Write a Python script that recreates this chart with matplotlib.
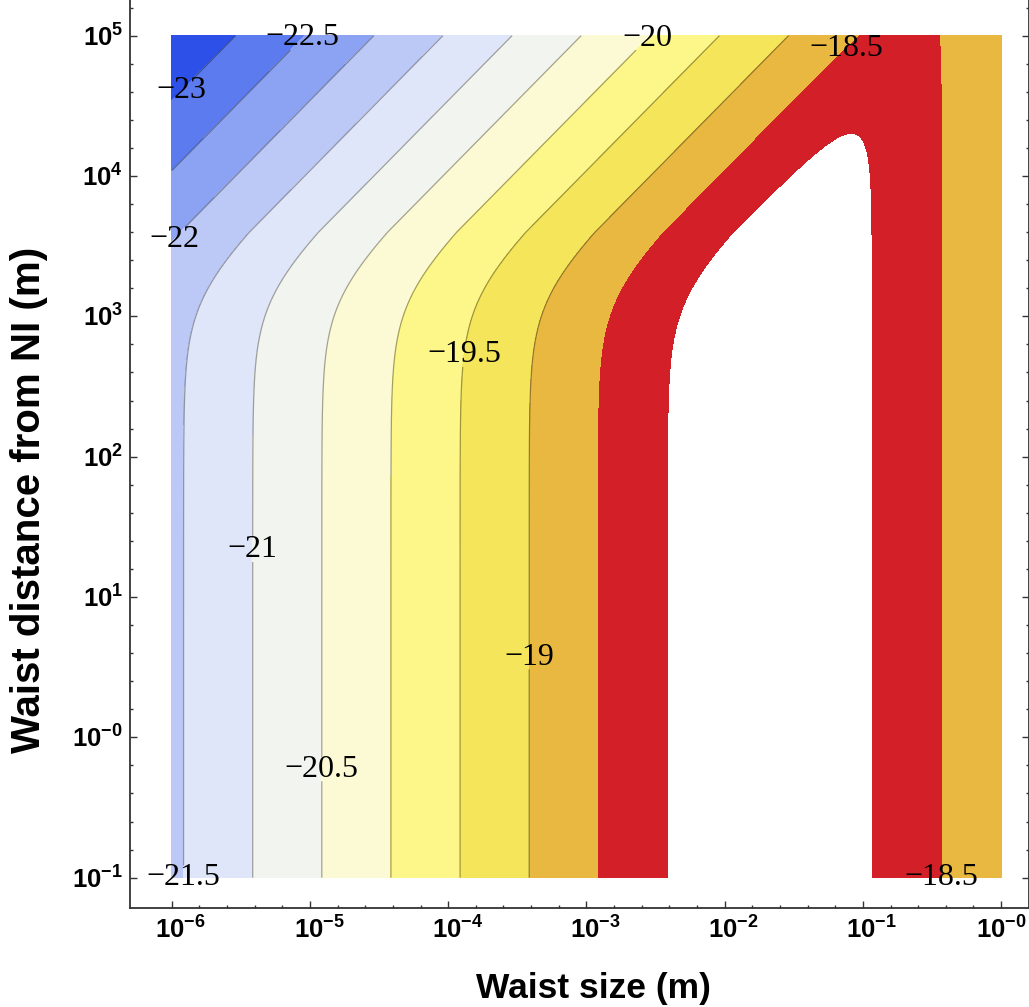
import numpy as np
import matplotlib
matplotlib.use('Agg')
import matplotlib.pyplot as plt
from matplotlib.ticker import FixedLocator, FixedFormatter, NullFormatter
from matplotlib.transforms import ScaledTranslation

# contour levels and the fill colour of each band (lowest band first)
levels = [-24.0, -23.0, -22.5, -22.0, -21.5, -21.0, -20.5, -20.0, -19.5, -19.0, -18.5, -18.0]
band_colors = ['#2c50e8', '#5b7bee', '#8ba3f2', '#bcc8f6', '#e0e6fa', '#f2f4ef',
               '#fcfad4', '#fdf78a', '#f4e55a', '#e9b840', '#d32028']
line_levels = [-23.0, -22.5, -22.0, -21.5, -21.0, -20.5, -20.0, -19.5, -19.0, -18.5]

# level crossings along the bottom row (z = 0.1 m)
rise_levels = [-21.5, -21.0, -20.5, -20.0, -19.5, -19.0, -18.5, -18.0]
rise_w0 = [1.22e-6, 3.85e-6, 1.21e-5, 3.91e-5, 1.21e-4, 3.83e-4, 1.21e-3, 3.88e-3]
fall_levels = [-18.0, -18.5]
fall_w0 = [0.114, 0.379]

# distance where the rising contours bend over, and the laser wavelength
bend_distance = 1.41e3   # m
wavelength = 1.064e-6    # m

# contour labels: the spot on the line where each label sits
label_spots = [(1.15e-6, 4.2e4), (8.5e-6, 1.0e5), (1.06e-6, 3.5e3), (1.25e-6, 0.1),
               (3.87e-6, 21.7), (1.22e-5, 0.59), (2.66e-3, 1.0e5), (1.32e-4, 532),
               (3.9e-4, 3.7), (0.074, 8.2e4), (0.38, 0.1)]

x_ticks = [1e-6, 1e-5, 1e-4, 1e-3, 1e-2, 1e-1, 1e0]
x_tick_labels = ['-6', '-5', '-4', '-3', '-2', '-1', '-0']
y_ticks = [1e-1, 1e0, 1e1, 1e2, 1e3, 1e4, 1e5]
y_tick_labels = ['-1', '-0', '1', '2', '3', '4', '5']

plt.rcParams['mathtext.fontset'] = 'custom'
plt.rcParams['mathtext.bf'] = 'Liberation Sans:bold'
plt.rcParams['mathtext.rm'] = 'Liberation Sans'

# field on a log grid
w0 = np.logspace(-6, 0, 700)
z = np.logspace(-1, 5, 700)
W, Z = np.meshgrid(w0, z)
rise_offset = np.mean(np.array(rise_levels) - np.log10(rise_w0))
fall_offset = np.mean(np.array(fall_levels) + np.log10(fall_w0))
rise = np.log10(W) - 0.5 * np.log10(1 + (Z / bend_distance) ** 2) + rise_offset
rayleigh = np.pi * W ** 2 / wavelength
fall = fall_offset - np.log10(W * np.sqrt(1 + (Z / rayleigh) ** 2))
field = np.minimum(rise, fall)

fig = plt.figure(figsize=(10.29, 10.07), dpi=100)
ax = fig.add_axes([130 / 1029, 1 - 907.7 / 1007, 898.5 / 1029, 907.7 / 1007])

# scales first so the labels are placed in the final screen coordinates
ax.set_xscale('log')
ax.set_yscale('log')
ax.set_xlim(10 ** -6.302, 10 ** 0.198)
ax.set_ylim(10 ** -1.214, 10 ** 5.254)

ax.contourf(W, Z, field, levels=levels, colors=band_colors)

# invisible copy of the lines, only used to place the labels
label_set = ax.contour(W, Z, field, levels=line_levels, colors='k', linewidths=0)
texts = ax.clabel(label_set, manual=label_spots, inline=False, colors='k',
                  fontsize=23, fmt=lambda v: f'{v:g}'.replace('-', '\u2212'))
for t in texts:
    t.set_rotation(0)
    t.set_fontfamily('Liberation Serif')

# break the visible lines where a label sits
fig.canvas.draw()
renderer = fig.canvas.get_renderer()
pix = ax.transData.transform(np.column_stack([W.ravel(), Z.ravel()])).reshape(W.shape + (2,))
hidden = np.zeros(W.shape, dtype=bool)
for t in texts:
    bb = t.get_window_extent(renderer).expanded(1.0, 0.8)
    hidden |= ((pix[..., 0] > bb.x0) & (pix[..., 0] < bb.x1) &
               (pix[..., 1] > bb.y0) & (pix[..., 1] < bb.y1))
line_field = np.ma.masked_array(field, mask=hidden)
ax.contour(W, Z, line_field, levels=line_levels[:-1],
           colors=[(0, 0, 0, 0.35)], linewidths=0.9, linestyles='solid')

ax.xaxis.set_major_locator(FixedLocator(x_ticks))
ax.xaxis.set_major_formatter(FixedFormatter([r'$\mathbf{10^{%s}}$' % s for s in x_tick_labels]))
ax.yaxis.set_major_locator(FixedLocator(y_ticks))
ax.yaxis.set_major_formatter(FixedFormatter([r'$\mathbf{10^{%s}}$' % s for s in y_tick_labels]))
x_minor = [t * 10 ** (j / 5) for t in x_ticks for j in range(1, 5) if t * 10 ** (j / 5) < 1.5]
y_minor = [t * 10 ** (j / 5) for t in y_ticks for j in range(1, 5) if t * 10 ** (j / 5) < 1.7e5]
ax.xaxis.set_minor_locator(FixedLocator(x_minor))
ax.yaxis.set_minor_locator(FixedLocator(y_minor))
ax.xaxis.set_minor_formatter(NullFormatter())
ax.yaxis.set_minor_formatter(NullFormatter())

ax.tick_params(which='both', direction='in', color='#333333', width=1.0,
               top=False, right=True, labelsize=18.5)
ax.tick_params(which='major', length=5)
ax.tick_params(which='minor', length=2.5)
ax.tick_params(axis='x', pad=7)
ax.tick_params(axis='y', pad=5)
# centre the "10" of each x label on its tick, superscript hanging right
for lab in ax.get_xticklabels()[:-1]:
    lab.set_transform(lab.get_transform() + ScaledTranslation(0.09, 0, fig.dpi_scale_trans))

ax.spines['top'].set_visible(False)
for side in ['left', 'bottom', 'right']:
    ax.spines[side].set_color('#333333')
    ax.spines[side].set_linewidth(1.3)

ax.set_xlabel('Waist size (m)', fontsize=25.5, fontweight='bold', family='Liberation Sans')
ax.set_ylabel('Waist distance from NI (m)', fontsize=29, fontweight='bold', family='Liberation Sans')
ax.xaxis.set_label_coords(0.516, -0.071)
ax.yaxis.set_label_coords(-0.091, 0.449)

fig.savefig('out.png', dpi=100)
